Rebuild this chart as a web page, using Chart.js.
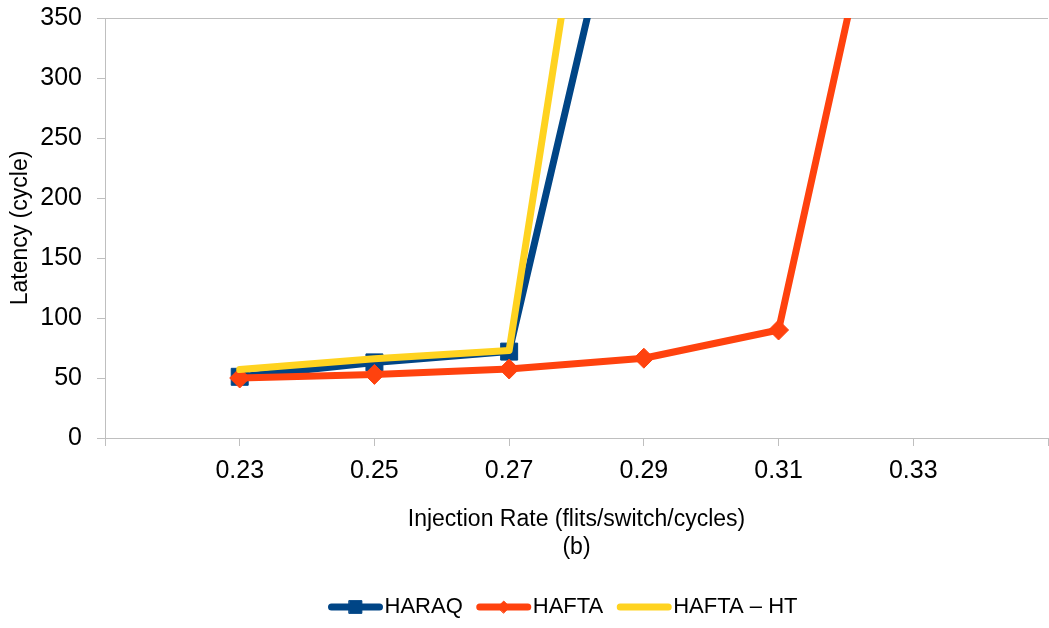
<!DOCTYPE html>
<html>
<head>
<meta charset="utf-8">
<title>Latency vs Injection Rate</title>
<script src="https://cdn.jsdelivr.net/npm/chart.js@4.4.1/dist/chart.umd.min.js"></script>
<style>
  body { margin: 0; background: #fff; }
  .chart-box { width: 1049px; height: 628px; }
</style>
</head>
<body>
<div class="chart-box"><canvas id="myChart"></canvas></div>
<script>
// data (values above 350 are clipped in the original)
const rates = ["", "0.23", "0.25", "0.27", "0.29", "0.31", "0.33", ""];
const haraq = [null, 51, 63, 72, 552, null, null, null];
const hafta = [null, 50, 53, 57.5, 66.5, 90, 598, null];
const haftaHT = [null, 57, 66, 73, 790, null, null, null];
const yTicks = [0, 50, 100, 150, 200, 250, 300, 350];

const FONT = "'Liberation Sans', Arial, sans-serif";
const AXIS = "#bfbfbf";

// legend sits a bit left of the plot centre in the original
const legendShift = {
  id: "legendShift",
  afterLayout(chart) {
    const lg = chart.legend;
    if (!lg) return;
    lg.left -= 14;
    lg.right -= 14;
  },
};

// draws line + square / diamond for each legend entry
const legendMarkers = {
  id: "legendMarkers",
  afterDraw(chart) {
    const legend = chart.legend;
    if (!legend || !legend.legendHitBoxes) return;
    const c = chart.ctx;
    legend.legendItems.forEach((item, i) => {
      const ds = chart.data.datasets[item.datasetIndex];
      const box = legend.legendHitBoxes[i];
      const y = box.top + box.height / 2;
      c.save();
      c.strokeStyle = ds.borderColor;
      c.lineWidth = 7;
      c.lineCap = "round";
      c.beginPath();
      c.moveTo(box.left + 4, y);
      c.lineTo(box.left + 52, y);
      c.stroke();
      if (ds.pointRadius) {
        c.fillStyle = ds.borderColor;
        c.lineWidth = 1;
        Chart.helpers.drawPoint(
          c,
          { pointStyle: ds.pointStyle, radius: ds.pointStyle === "rect" ? 9 : 6, borderWidth: 1, rotation: 0 },
          box.left + 28,
          y
        );
      }
      c.restore();
    });
  },
};

const data = {
  labels: rates,
  datasets: [
    {
      label: "HARAQ",
      data: haraq,
      borderColor: "#004586",
      backgroundColor: "#004586",
      borderWidth: 7,
      borderCapStyle: "round",
      borderJoinStyle: "round",
      pointStyle: "rect",
      pointRadius: 12,
      pointBorderWidth: 1,
      order: 2,
      clip: 0,
    },
    {
      label: "HAFTA",
      data: hafta,
      borderColor: "#ff420e",
      backgroundColor: "#ff420e",
      borderWidth: 7,
      borderCapStyle: "round",
      borderJoinStyle: "round",
      pointStyle: "rectRot",
      pointRadius: 10,
      pointBorderWidth: 1,
      order: 1,
      clip: 0,
    },
    {
      label: "HAFTA \u2013 HT",
      data: haftaHT,
      borderColor: "#ffd320",
      backgroundColor: "#ffd320",
      borderWidth: 7,
      borderCapStyle: "round",
      borderJoinStyle: "round",
      pointRadius: 0,
      order: 0,
      clip: 0,
    },
  ],
};

const config = {
  type: "line",
  data: data,
  plugins: [legendShift, legendMarkers],
  options: {
    responsive: true,
    maintainAspectRatio: false,
    animation: false,
    layout: {
      autoPadding: false,
      padding: { top: 18, right: 1, bottom: 0, left: 0 },
    },
    scales: {
      x: {
        type: "category",
        offset: false,
        ticks: {
          autoSkip: false,
          maxRotation: 0,
          padding: 0,
          color: "#000",
          // tall line height instead of tick padding
          font: { family: FONT, size: 25, lineHeight: 2 },
        },
        grid: {
          drawOnChartArea: false,
          tickColor: AXIS,
          tickLength: 8,
        },
        border: { color: AXIS, width: 1 },
        title: {
          display: true,
          text: ["Injection Rate (flits/switch/cycles)", "(b)"],
          color: "#000",
          font: { family: FONT, size: 23 },
          padding: { top: 0, bottom: 22 },
        },
        afterFit: (s) => {
          s.height = 145;
          s.paddingRight = 0;
        },
      },
      y: {
        min: 0,
        max: 350,
        afterBuildTicks: (s) => {
          s.ticks = yTicks.map((v) => ({ value: v }));
        },
        ticks: {
          padding: 15,
          color: "#000",
          font: { family: FONT, size: 25 },
        },
        grid: {
          // only the top line (350) is visible inside the plot
          color: (ctx) => (ctx.tick && ctx.tick.value === 350 ? AXIS : "rgba(0,0,0,0)"),
          tickColor: AXIS,
          tickLength: 8,
        },
        border: { color: AXIS, width: 1 },
        title: {
          display: true,
          text: "Latency (cycle)",
          color: "#000",
          font: { family: FONT, size: 23 },
          padding: { top: 7, bottom: 0 },
        },
        afterFit: (s) => {
          s.width = 105;
          s.paddingTop = 0;
        },
      },
    },
    plugins: {
      legend: {
        display: true,
        position: "bottom",
        fullSize: false,
        labels: {
          usePointStyle: true,
          pointStyle: "line",
          pointStyleWidth: 46,
          padding: 13,
          color: "#000",
          font: { family: FONT, size: 22 },
          sort: (a, b) => a.datasetIndex - b.datasetIndex,
          // the library's own line is hidden, legendMarkers draws it longer
          generateLabels: (chart) =>
            Chart.defaults.plugins.legend.labels.generateLabels(chart).map((l) => ({
              ...l,
              lineWidth: 0,
              strokeStyle: "rgba(0,0,0,0)",
              fillStyle: "rgba(0,0,0,0)",
            })),
        },
      },
      title: { display: false },
      tooltip: { enabled: false },
    },
  },
};

const ctx = document.getElementById("myChart").getContext("2d");
new Chart(ctx, config);
</script>
</body>
</html>
